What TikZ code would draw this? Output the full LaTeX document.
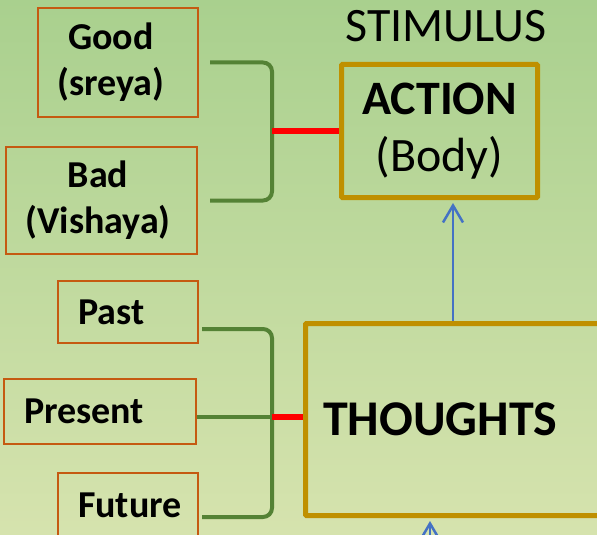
\documentclass[tikz,border=0pt]{standalone}
\usepackage{fontspec}
\setmainfont{Carlito}
\usetikzlibrary{arrows.meta, positioning, calc}
\definecolor{bgtop}{RGB}{169,208,142}
\definecolor{bgbottom}{RGB}{214,227,174}
\definecolor{boxorange}{RGB}{197,90,17}
\definecolor{boxgold}{RGB}{191,144,0}
\definecolor{bracketgreen}{RGB}{84,130,53}
\definecolor{arrowblue}{RGB}{68,114,196}

\begin{document}
\begin{tikzpicture}[x=1pt,y=-1pt,
    leaf box/.style={draw=boxorange,line width=2pt,anchor=north west,inner sep=0pt,
      font=\fontsize{38}{46}\selectfont\bfseries,align=center},
    time box/.style={leaf box,inner xsep=20pt,align=left},
    main box/.style={draw=boxgold,line width=5pt,anchor=north west,inner sep=0pt,rounded corners=1pt},
    bracket/.style={draw=bracketgreen,line width=4pt,rounded corners=9pt},
    join line/.style={draw=red,line width=6pt},
    flow/.style={draw=arrowblue,line width=2.5pt,-{Straight Barb[length=17pt,width=20pt]},shorten >=3pt}]
  % page and background
  \useasboundingbox (0,0) rectangle (597,535);
  \clip (0,0) rectangle (597,535);
  \shade[top color=bgtop,bottom color=bgbottom] (0,0) rectangle (597,535);

  % choices
  \node[leaf box, minimum width=160, minimum height=109] (good) at (37,7) {Good\hspace*{14pt}\\(sreya)\hspace*{14pt}};
  \node[leaf box, minimum width=191, minimum height=107] (bad) at (5,146) {Bad\hspace*{7pt}\\(Vishaya)\hspace*{7pt}};

  % times
  \node[time box, text width=100, minimum height=62] (past) at (57,280) {Past};
  \node[time box, text width=152, minimum height=65] (present) at (3,378) {Present};
  \node[time box, text width=100, minimum height=64] (future) at (57,472) {Future};

  % main boxes
  \node[main box, minimum width=196, minimum height=133, align=center,
        font=\fontsize{48}{57}\selectfont] (action) at (339,62) {\textbf{ACTION}\\(Body)};
  \node[anchor=base, font=\fontsize{48}{54}\selectfont] (stimulus) at (446,42) {STIMULUS};
  \node[main box, minimum width=295, minimum height=192, inner xsep=17.5pt, text width=260,
        align=left, font=\fontsize{50}{56}\selectfont\bfseries] (thoughts) at (303,321) {THOUGHTS};

  % joins
  \coordinate (topjoin) at (272,131);
  \coordinate (midjoin) at (272,417);
  \coordinate (below) at (430,545);
  \draw[bracket] ([xshift=11pt]good.east) -| (topjoin) |- ([xshift=12pt]bad.east);
  \draw[bracket] ([xshift=3pt,yshift=-17pt]past.east) -| (midjoin) |- ([xshift=3pt,yshift=-12pt]future.east);
  \draw[bracket] (present.east |- midjoin) -- (midjoin);
  \draw[join line] (topjoin |- action.west) -- (action.west);
  \draw[join line] (midjoin) -- (midjoin -| thoughts.west);

  % flows
  \draw[flow] (thoughts.north) -- (thoughts.north |- action.south);
  \draw[flow] (below) -- (below |- thoughts.south);
\end{tikzpicture}
\end{document}
